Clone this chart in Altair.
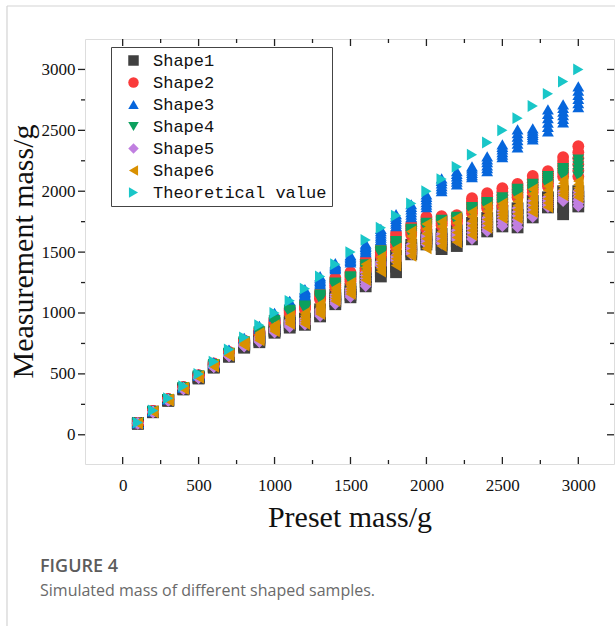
import altair as alt
import pandas as pd

# ---------------- data ----------------
series_names = ["Shape1", "Shape2", "Shape3", "Shape4", "Shape5", "Shape6", "Theoretical value"]
series_colors = ["#404040", "#fa3b3b", "#0766dc", "#0ca05e", "#c07fe0", "#d99000", "#19c6c8"]
series_shapes = ["square", "circle", "triangle-up", "triangle-down", "diamond", "triangle-left", "triangle-right"]

preset_mass = [100, 200, 300, 400, 500, 600, 700, 800, 900, 1000, 1100, 1200, 1300, 1400, 1500,
               1600, 1700, 1800, 1900, 2000, 2100, 2200, 2300, 2400, 2500, 2600, 2700, 2800, 2900, 3000]

theoretical = [100, 200, 300, 400, 500, 600, 700, 800, 900, 1000, 1100, 1200, 1300, 1400, 1500,
               1600, 1700, 1800, 1900, 2000, 2100, 2200, 2300, 2400, 2500, 2600, 2700, 2800, 2900, 3000]

shape1_r1 = [95, 190, 286, 382, 476, 566, 658, 745, 800, 875, 940, 955, 1030, 1150, 1200, 1330, 1420, 1470, 1560, 1640, 1650, 1680, 1740, 1780, 1840, 1860, 1920, 1950, 2000, 2000]
shape1_r2 = [94, 188, 283, 378, 471, 561, 652, 735, 790, 862, 920, 937, 1010, 1120, 1175, 1290, 1380, 1430, 1530, 1610, 1610, 1640, 1690, 1740, 1795, 1805, 1870, 1920, 1940, 1955]
shape1_r3 = [92, 186, 281, 375, 467, 556, 646, 725, 775, 850, 900, 920, 990, 1095, 1150, 1255, 1340, 1380, 1505, 1585, 1560, 1590, 1645, 1705, 1750, 1755, 1830, 1895, 1870, 1915]
shape1_r4 = [91, 185, 279, 372, 462, 551, 640, 715, 760, 838, 880, 903, 972, 1072, 1129, 1219, 1300, 1335, 1482, 1563, 1525, 1550, 1605, 1670, 1711, 1703, 1785, 1867, 1811, 1875]

shape2_r1 = [98, 196, 295, 392, 490, 585, 680, 775, 860, 955, 1040, 1090, 1172, 1290, 1335, 1440, 1540, 1656, 1730, 1790, 1795, 1803, 1943, 1984, 2025, 2060, 2125, 2165, 2280, 2370]
shape2_r2 = [97, 195, 293, 390, 488, 582, 676, 770, 854, 947, 1031, 1078, 1160, 1274, 1320, 1422, 1526, 1633, 1712, 1770, 1780, 1790, 1918, 1959, 1996, 2038, 2098, 2140, 2248, 2320]
shape2_r3 = [96, 194, 292, 388, 485, 579, 672, 765, 848, 939, 1022, 1066, 1147, 1258, 1305, 1404, 1512, 1610, 1694, 1750, 1765, 1778, 1894, 1934, 1967, 2016, 2071, 2115, 2216, 2270]
shape2_r4 = [96, 192, 290, 387, 483, 576, 668, 760, 842, 931, 1013, 1054, 1135, 1242, 1290, 1386, 1498, 1586, 1676, 1730, 1750, 1765, 1869, 1910, 1938, 1994, 2044, 2090, 2184, 2220]
shape2_r5 = [95, 191, 289, 385, 480, 573, 664, 755, 836, 923, 1004, 1042, 1122, 1226, 1275, 1368, 1484, 1563, 1658, 1710, 1735, 1753, 1845, 1885, 1909, 1972, 2017, 2065, 2152, 2170]
shape2_r6 = [94, 190, 287, 383, 478, 570, 660, 750, 830, 915, 995, 1030, 1110, 1210, 1260, 1350, 1470, 1540, 1640, 1690, 1720, 1740, 1820, 1860, 1880, 1950, 1990, 2040, 2120, 2120]

shape3_r1 = [100, 200, 298, 398, 495, 595, 700, 795, 895, 1000, 1100, 1197, 1303, 1410, 1475, 1570, 1690, 1811, 1893, 1975, 2106, 2164, 2205, 2287, 2385, 2508, 2516, 2672, 2713, 2860]
shape3_r2 = [99, 198, 296, 396, 493, 592, 696, 791, 890, 994, 1093, 1186, 1290, 1400, 1463, 1556, 1672, 1791, 1872, 1954, 2085, 2143, 2187, 2262, 2364, 2478, 2498, 2636, 2684, 2826]
shape3_r3 = [98, 197, 295, 394, 491, 590, 692, 787, 885, 988, 1086, 1174, 1277, 1390, 1451, 1542, 1654, 1772, 1851, 1933, 2064, 2121, 2169, 2238, 2343, 2449, 2480, 2600, 2654, 2792]
shape3_r4 = [97, 195, 293, 392, 489, 587, 688, 783, 880, 982, 1079, 1163, 1264, 1380, 1439, 1528, 1636, 1752, 1829, 1911, 2042, 2100, 2151, 2213, 2322, 2419, 2462, 2564, 2625, 2758]
shape3_r5 = [96, 194, 292, 390, 487, 585, 684, 779, 875, 976, 1072, 1151, 1251, 1370, 1427, 1514, 1618, 1733, 1808, 1890, 2021, 2078, 2133, 2189, 2301, 2390, 2444, 2528, 2595, 2724]
shape3_r6 = [95, 192, 290, 388, 485, 582, 680, 775, 870, 970, 1065, 1140, 1238, 1360, 1415, 1500, 1600, 1713, 1787, 1869, 2000, 2057, 2115, 2164, 2280, 2360, 2426, 2492, 2566, 2690]

shape4_r1 = [97, 194, 292, 390, 486, 580, 672, 765, 850, 940, 1025, 1060, 1150, 1250, 1300, 1400, 1515, 1590, 1690, 1740, 1765, 1790, 1870, 1910, 1950, 2020, 2060, 2125, 2190, 2260]
shape4_r2 = [96, 193, 291, 389, 484, 578, 670, 762, 846, 935, 1019, 1054, 1142, 1242, 1292, 1390, 1508, 1580, 1680, 1730, 1756, 1780, 1860, 1900, 1936, 2006, 2046, 2108, 2176, 2232]
shape4_r3 = [96, 192, 290, 387, 483, 576, 667, 759, 842, 930, 1013, 1048, 1134, 1234, 1284, 1380, 1501, 1570, 1670, 1720, 1747, 1770, 1850, 1890, 1922, 1992, 2032, 2091, 2162, 2204]
shape4_r4 = [95, 192, 289, 386, 481, 574, 665, 756, 838, 925, 1007, 1042, 1126, 1226, 1276, 1370, 1494, 1560, 1660, 1710, 1738, 1760, 1840, 1880, 1908, 1978, 2018, 2074, 2148, 2176]
shape4_r5 = [95, 191, 288, 384, 480, 572, 662, 753, 834, 920, 1001, 1036, 1118, 1218, 1268, 1360, 1487, 1550, 1650, 1700, 1729, 1750, 1830, 1870, 1894, 1964, 2004, 2057, 2134, 2148]
shape4_r6 = [94, 190, 287, 383, 478, 570, 660, 750, 830, 915, 995, 1030, 1110, 1210, 1260, 1350, 1480, 1540, 1640, 1690, 1720, 1740, 1820, 1860, 1880, 1950, 1990, 2040, 2120, 2120]

shape5_r1 = [95, 190, 286, 382, 476, 566, 658, 745, 800, 875, 940, 955, 1030, 1150, 1200, 1330, 1420, 1470, 1560, 1640, 1650, 1680, 1740, 1780, 1840, 1860, 1920, 1950, 2000, 2000]
shape5_r2 = [94, 189, 285, 380, 474, 564, 655, 741, 792, 868, 929, 945, 1019, 1135, 1186, 1308, 1413, 1461, 1545, 1625, 1634, 1664, 1713, 1758, 1815, 1829, 1893, 1934, 1984, 1975]
shape5_r3 = [94, 188, 284, 379, 472, 562, 653, 737, 785, 861, 918, 935, 1008, 1120, 1172, 1286, 1406, 1452, 1530, 1610, 1618, 1648, 1687, 1737, 1789, 1798, 1867, 1918, 1967, 1951]
shape5_r4 = [93, 188, 282, 377, 469, 559, 650, 733, 777, 854, 907, 925, 997, 1104, 1159, 1265, 1399, 1444, 1514, 1595, 1602, 1632, 1660, 1715, 1764, 1767, 1840, 1901, 1951, 1926]
shape5_r5 = [92, 187, 281, 376, 467, 557, 648, 729, 770, 847, 896, 915, 986, 1089, 1145, 1243, 1392, 1435, 1499, 1580, 1586, 1616, 1634, 1694, 1738, 1736, 1814, 1885, 1934, 1902]
shape5_r6 = [92, 186, 280, 374, 465, 555, 645, 725, 762, 840, 885, 905, 975, 1074, 1131, 1221, 1385, 1426, 1484, 1565, 1570, 1600, 1607, 1672, 1713, 1705, 1787, 1869, 1918, 1877]

shape6_r1 = [96, 192, 290, 387, 482, 575, 668, 760, 836, 900, 975, 1000, 1074, 1205, 1246, 1400, 1460, 1530, 1670, 1730, 1750, 1780, 1830, 1870, 1900, 1950, 2016, 2041, 2090, 2082]
shape6_r2 = [95, 191, 289, 385, 480, 572, 664, 755, 824, 890, 962, 982, 1058, 1184, 1228, 1374, 1436, 1502, 1630, 1690, 1710, 1740, 1792, 1836, 1876, 1916, 1978, 2007, 2065, 2056]
shape6_r3 = [95, 190, 287, 383, 477, 569, 661, 750, 812, 880, 949, 964, 1041, 1162, 1210, 1348, 1412, 1474, 1590, 1650, 1670, 1700, 1754, 1802, 1852, 1882, 1941, 1972, 2041, 2029]
shape6_r4 = [94, 189, 286, 382, 475, 566, 657, 745, 799, 870, 936, 946, 1025, 1141, 1192, 1322, 1388, 1446, 1550, 1610, 1630, 1660, 1716, 1768, 1828, 1848, 1903, 1938, 2016, 2003]
shape6_r5 = [94, 188, 284, 380, 472, 563, 654, 740, 787, 860, 923, 928, 1008, 1119, 1174, 1296, 1364, 1418, 1510, 1570, 1590, 1620, 1678, 1734, 1804, 1814, 1866, 1903, 1992, 1976]
shape6_r6 = [93, 187, 283, 378, 470, 560, 650, 735, 775, 850, 910, 910, 992, 1098, 1156, 1270, 1340, 1390, 1470, 1530, 1550, 1580, 1640, 1700, 1780, 1780, 1828, 1869, 1967, 1950]

x_major_ticks = [0, 500, 1000, 1500, 2000, 2500, 3000]
x_minor_ticks = [250, 750, 1250, 1750, 2250, 2750]
y_major_ticks = [0, 500, 1000, 1500, 2000, 2500, 3000]
y_minor_ticks = [250, 750, 1250, 1750, 2250, 2750]

x_title = "Preset mass/g"
y_title = "Measurement mass/g"
caption_label = ["FIGURE 4"]
caption_text = ["Simulated mass of different shaped samples."]

series_reps = [
    [shape1_r1, shape1_r2, shape1_r3, shape1_r4],
    [shape2_r1, shape2_r2, shape2_r3, shape2_r4, shape2_r5, shape2_r6],
    [shape3_r1, shape3_r2, shape3_r3, shape3_r4, shape3_r5, shape3_r6],
    [shape4_r1, shape4_r2, shape4_r3, shape4_r4, shape4_r5, shape4_r6],
    [shape5_r1, shape5_r2, shape5_r3, shape5_r4, shape5_r5, shape5_r6],
    [shape6_r1, shape6_r2, shape6_r3, shape6_r4, shape6_r5, shape6_r6],
    [theoretical],
]

rows = []
for name, reps in zip(series_names, series_reps):
    for rep in reps:
        for xm, ym in zip(preset_mass, rep):
            rows.append({"preset": xm, "measured": ym, "series": name})
df = pd.DataFrame(rows)

# ---------------- layout ----------------
W, H = 529, 425
xscale = alt.Scale(domain=[-248, 3235], nice=False, zero=False)
yscale = alt.Scale(domain=[-240, 3250], nice=False, zero=False)

serif = "Liberation Serif"
mono = "Liberation Mono"

legend = alt.Legend(
    orient="none", legendX=26, legendY=8, title=None,
    labelFont=mono, labelFontSize=17, labelColor="#111", labelLimit=400,
    symbolSize=110, symbolStrokeWidth=0, padding=5, rowPadding=4,
    symbolOffset=9, labelOffset=11,
    strokeColor="#444", fillColor="white",
)

points = alt.Chart(df).mark_point(filled=True, opacity=1, size=140, strokeWidth=0).encode(
    x=alt.X("preset:Q", scale=xscale, axis=alt.Axis(
        values=x_major_ticks, format="d", ticks=False, tickSize=0, domain=False, grid=False,
        labelFont=serif, labelFontSize=17, labelColor="#111", labelPadding=13,
        title=x_title, titleFont=serif, titleFontSize=30, titleFontWeight="normal",
        titleColor="#111", titleBaseline="alphabetic", titleY=62)),
    y=alt.Y("measured:Q", scale=yscale, axis=alt.Axis(
        values=y_major_ticks, format="d", ticks=False, tickSize=0, domain=False, grid=False,
        labelFont=serif, labelFontSize=17, labelColor="#111", labelPadding=10,
        title=y_title, titleFont=serif, titleFontSize=30, titleFontWeight="normal",
        titleColor="#111", titleBaseline="alphabetic", titleAngle=270,
        titleX=-53, titleY=212, titleAlign="center")),
    color=alt.Color("series:N", scale=alt.Scale(domain=series_names, range=series_colors), legend=legend),
    shape=alt.Shape("series:N", scale=alt.Scale(domain=series_names, range=series_shapes), legend=legend),
)

xmaj = pd.DataFrame({"v": x_major_ticks})
xmin = pd.DataFrame({"v": x_minor_ticks})
ymaj = pd.DataFrame({"v": y_major_ticks})
ymin = pd.DataFrame({"v": y_minor_ticks})

tick_color = "#222"
def xticks(data, y0, y1):
    return alt.Chart(data).mark_rule(color=tick_color, strokeWidth=1.3).encode(
        x=alt.X("v:Q", scale=xscale, axis=None), y=alt.value(y0), y2=alt.value(y1))

def yticks(data, x0, x1):
    return alt.Chart(data).mark_rule(color=tick_color, strokeWidth=1.3).encode(
        y=alt.Y("v:Q", scale=yscale, axis=None), x=alt.value(x0), x2=alt.value(x1))

ticks = [
    xticks(xmaj, H, H - 7), xticks(xmin, H, H - 4),
    xticks(xmaj, 0, 7), xticks(xmin, 0, 4),
    yticks(ymaj, 0, -7), yticks(ymin, 0, -4),
    yticks(ymaj, W, W - 7), yticks(ymin, W, W - 4),
]

one = pd.DataFrame({"a": [0]})
border_left = alt.Chart(one).mark_rule(color="#d3d3d3", strokeWidth=1.2).encode(
    x=alt.value(-78), y=alt.value(-33), y2=alt.value(590))
border_top = alt.Chart(one).mark_rule(color="#d3d3d3", strokeWidth=1.2).encode(
    y=alt.value(-33), x=alt.value(-78), x2=alt.value(535))

cap1 = alt.Chart(pd.DataFrame({"t": caption_label})).mark_text(
    align="left", baseline="alphabetic", font="Open Sans", fontSize=18, fontWeight=600, color="#5c5c5c"
).encode(x=alt.value(-45), y=alt.value(533), text="t:N")
cap2 = alt.Chart(pd.DataFrame({"t": caption_text})).mark_text(
    align="left", baseline="alphabetic", font="Open Sans", fontSize=16, color="#6a6a6a"
).encode(x=alt.value(-45), y=alt.value(557), text="t:N")

chart = alt.layer(points, border_left, border_top, *ticks, cap1, cap2).resolve_axis(
    x="independent", y="independent"
).properties(
    width=W, height=H,
    autosize=alt.AutoSizeParams(type="none"),
    padding={"left": 85, "top": 39, "right": 1, "bottom": 162},
).configure_view(stroke="#222", strokeWidth=1.5).configure(background="white")

chart.save("out.html", embed_options={"renderer": "svg", "actions": False})
